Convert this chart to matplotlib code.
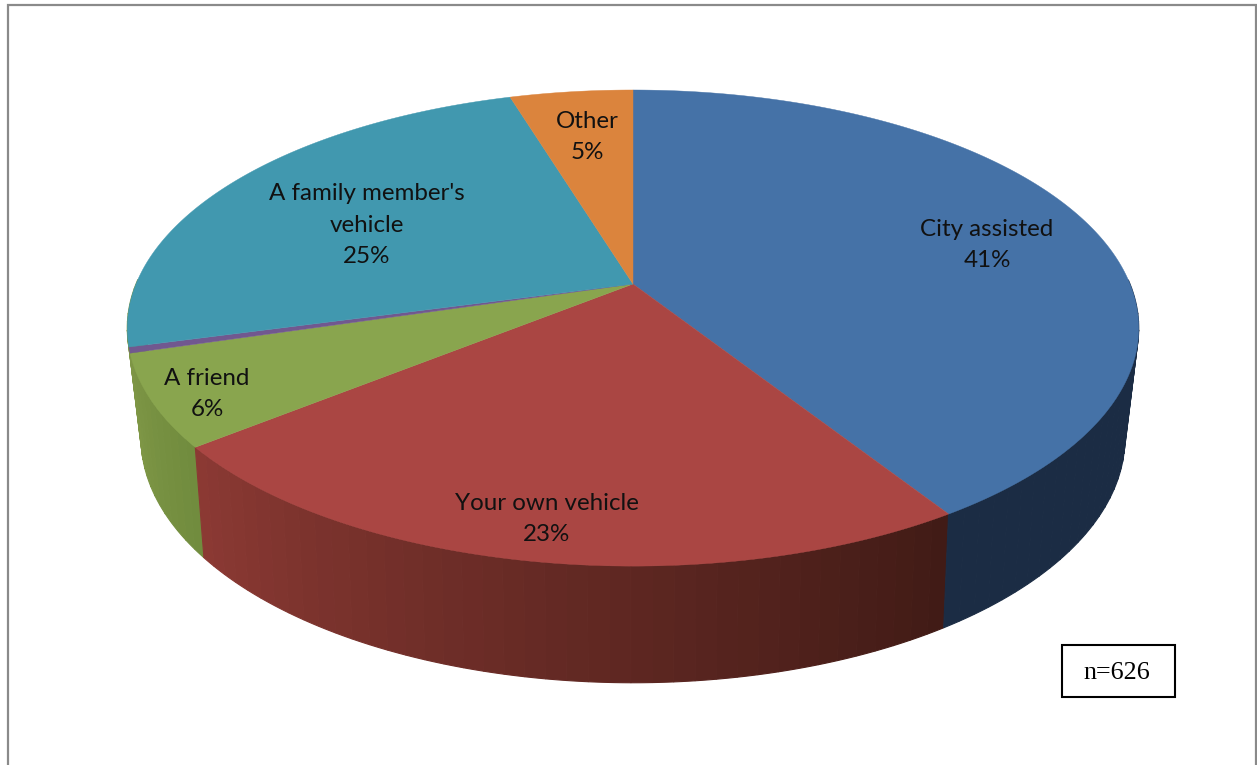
import numpy as np
from matplotlib import pyplot as plt
from matplotlib.colors import to_rgb
from matplotlib.patches import Rectangle

# survey shares, clockwise from 12 o'clock
categories = ['City assisted', 'Your own vehicle', 'A friend', 'Other vehicle', "A family member's\nvehicle", 'Other']
values = [41.0, 23.2, 6.2, 0.4, 24.5, 4.7]
shown = ['41%', '23%', '6%', '', '25%', '5%']
n_text = 'n=626'

top_colors = ['#4572A7', '#AA4643', '#89A54E', '#71588F', '#4198AF', '#DB843D']
# wall shading, left end and right end of each slice
# the purple and teal walls only show as a sliver at the left edge, green looks closest there
wall_from = ['#1B2C44', '#8D3A34', '#7F9746', '#7F9746', '#7F9746', '#A8642D']
wall_to = ['#1B2C44', '#411B16', '#718C3E', '#7F9746', '#7F9746', '#A8642D']
label_xy = [(987, 245), (547, 519), (207, 394), None, (367, 225), (587, 137)]

plt.rcParams['font.family'] = ['Lato', 'DejaVu Sans']


def project(theta, cx, cy, a, b, c):
    # perspective view of the pie circle, theta clockwise from the top
    X, Y = np.sin(theta), np.cos(theta)
    d = 1 + c * Y
    return cx + b * X / d, cy - a * Y / d


def top(theta):
    return project(theta, 633, 284, 229.9, 497, 0.185)


def bottom(theta):
    return project(theta, 633, 389, 235, 482, 0.2)


def mix(c1, c2, t):
    r1, r2 = np.array(to_rgb(c1)), np.array(to_rgb(c2))
    return tuple(r1 + (r2 - r1) * t)


fig = plt.figure(figsize=(12.57, 7.65), dpi=100)
ax = fig.add_axes([0, 0, 1, 1])
ax.set_xlim(0, 1257)
ax.set_ylim(765, 0)
ax.axis('off')

# outer chart frame, runs off the bottom of the crop
ax.plot([8, 8, 1256, 1256], [765, 5, 5, 765], color='#8A8A8A', lw=1.6, solid_joinstyle='miter')

edges = np.cumsum([0] + values) / sum(values) * 2 * np.pi

# side wall, only the part facing us, drawn in bands like the original
for i in range(len(values) - 1, -1, -1):
    steps = max(2, int(np.degrees(edges[i + 1] - edges[i]) / 2))
    th = np.linspace(edges[i], edges[i + 1], steps + 1)
    for j in range(steps):
        # angle runs right to left along the front, so the gradient is flipped
        col = mix(wall_to[i], wall_from[i], j / steps)
        arc = np.linspace(th[j], th[j + 1], 12)
        arc = arc[np.cos(arc) < 0.02]
        if len(arc) < 2:
            continue
        x0, y0 = top(arc)
        x1, y1 = bottom(arc[::-1])
        ax.fill(np.r_[x0, x1], np.r_[y0, y1], color=col, lw=0.8)

# top face
for i in range(len(values)):
    th = np.linspace(edges[i], edges[i + 1], 200)
    xs, ys = top(th)
    ax.fill(np.r_[633, xs], np.r_[284, ys], color=top_colors[i], lw=0.3)

for i, name in enumerate(categories):
    if label_xy[i] is None:
        continue
    ax.text(label_xy[i][0], label_xy[i][1], name + '\n' + shown[i], ha='center', va='center',
            fontsize=17.4, color='#111111', linespacing=1.62)

ax.add_patch(Rectangle((1062, 645), 113, 52, fc='white', ec='black', lw=1.5))
ax.text(1117, 673, n_text, ha='center', va='center', fontsize=18.8, family='Liberation Serif', color='black')

fig.savefig('out.png', dpi=100)
